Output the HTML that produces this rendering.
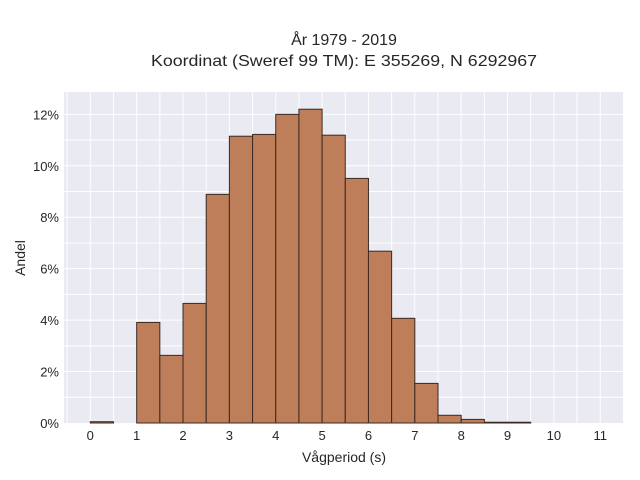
<!DOCTYPE html>
<html><head><meta charset="utf-8"><style>body{margin:0;background:#fff}svg{display:block;font-family:"Liberation Sans",sans-serif}</style></head>
<body>
<svg width="640" height="480" viewBox="0 0 640 480">
<rect x="64" y="92" width="560" height="331" fill="#eaeaf2"/>
<g id="grid"></g>
<g id="bars"></g>
<g id="ticks"></g>
<text x="344" y="45" text-anchor="middle" font-size="16" fill="#262626">År 1979 - 2019</text>
<text x="344" y="66" text-anchor="middle" font-size="16" fill="#262626" textLength="386" lengthAdjust="spacingAndGlyphs">Koordinat (Sweref 99 TM): E 355269, N 6292967</text>
<text x="344" y="462" text-anchor="middle" font-size="14" fill="#262626">Vågperiod (s)</text>
<text x="25" y="258" text-anchor="middle" font-size="14" fill="#262626" transform="rotate(-90 25 258)">Andel</text>
</svg>
<script>
const binStarts=[0,0.5,1,1.5,2,2.5,3,3.5,4,4.5,5,5.5,6,6.5,7,7.5,8,8.5,9,9.5,10,10.5];
const shares=[0.05,0,3.91,2.63,4.65,8.89,11.15,11.22,12.0,12.2,11.19,9.51,6.68,4.07,1.54,0.3,0.14,0.03,0.03,0,0,0];
const xTicks=[0,1,2,3,4,5,6,7,8,9,10,11];
const yTicks=[0,2,4,6,8,10,12];
const binWidth=0.5;
const NS="http://www.w3.org/2000/svg";
const sx=v=>90.3+v*46.36;
const sy=v=>423-v*25.72;
const g=document.getElementById('grid'),b=document.getElementById('bars'),t=document.getElementById('ticks');
function mk(tag,attrs,parent){const e=document.createElementNS(NS,tag);for(const k in attrs)e.setAttribute(k,attrs[k]);parent.appendChild(e);return e;}
for(let v=-0.5;v<=11.5;v+=0.5){
 const l=mk('line',{x1:sx(v),x2:sx(v),y1:92,y2:423,stroke:'#fff','stroke-width':1},g);
 
 
}
for(let v=1;v<=12;v+=1){
 const l=mk('line',{x1:64,x2:624,y1:sy(v),y2:sy(v),stroke:'#fff','stroke-width':1},g);
 
 
}
shares.forEach((s,i)=>{
 if(s<=0)return;
 const r=mk('rect',{x:sx(binStarts[i]),y:sy(s),width:sx(binStarts[i]+binWidth)-sx(binStarts[i]),height:sy(0)-sy(s),fill:'#bd7a55','fill-opacity':0.97,stroke:'#3a2a22','stroke-width':1},b);
 
 
});
xTicks.forEach(v=>{
 const e=mk('text',{x:sx(v),y:440,'text-anchor':'middle','font-size':13,fill:'#262626'},t);
 e.textContent=v;
 
 
});
yTicks.forEach(v=>{
 const e=mk('text',{x:59,y:sy(v)+5,'text-anchor':'end','font-size':13,fill:'#262626'},t);
 e.textContent=v+'%';
 
 
});
</script>
</body></html>
